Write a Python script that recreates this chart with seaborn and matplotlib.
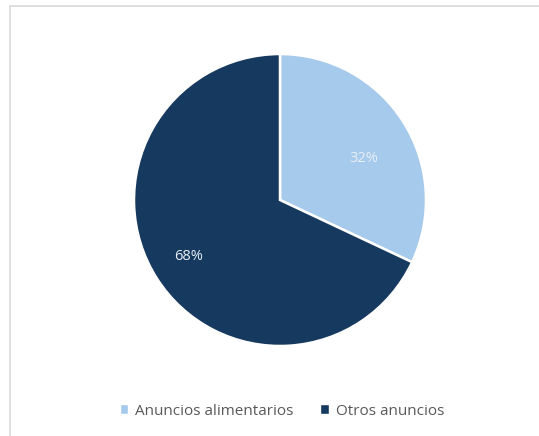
import matplotlib
matplotlib.use("Agg")
import matplotlib.pyplot as plt
from matplotlib.patches import Rectangle
import seaborn as sns

sns.set_theme(style="white")
plt.rcParams["font.family"] = ["Open Sans", "DejaVu Sans"]

categories = ["Anuncios alimentarios", "Otros anuncios"]
shares = [32, 68]
colors = ["#A6CAEC", "#163A5F"]

W, H = 539, 436
fig = plt.figure(figsize=(W / 100, H / 100), dpi=100)
fig.patch.set_facecolor("white")
ax = fig.add_axes([0, 0, 1, 1])

cx, cy, r = 280, 236, 146
wedges, texts, autotexts = ax.pie(
    shares,
    colors=colors,
    startangle=90,
    counterclock=False,
    center=(cx, cy),
    radius=r,
    autopct="%d%%",
    pctdistance=0.68,
    wedgeprops=dict(edgecolor="white", linewidth=1.8),
    textprops=dict(color="#E8EEF5", fontsize=10.5),
)
# move the percentage labels along their own radius
for t, d, dx, dy in zip(autotexts, [0.66, 0.74], [2, 0], [-10, 1]):
    x, y = t.get_position()
    t.set_position((cx + (x - cx) * d / 0.68 + dx, cy + (y - cy) * d / 0.68 + dy))

ax.set_xlim(0, W)
ax.set_ylim(0, H)
ax.set_aspect("equal")
ax.axis("off")

# chart area frame
ax.add_patch(Rectangle((9.5, -5), W, H - 6.5 + 5, fill=False,
                       edgecolor="#D9D9D9", linewidth=1.2, clip_on=False))

handles = [Rectangle((0, 0), 1, 1, facecolor=c) for c in colors]
fig.legend(handles, categories, loc="center", bbox_to_anchor=(282 / W, 1 - 411 / H),
           ncol=2, frameon=False, fontsize=11, handlelength=0.55, handleheight=0.55,
           handletextpad=0.45, columnspacing=1.75, labelcolor="#595959")

fig.savefig("out.png", dpi=100, facecolor="white")
